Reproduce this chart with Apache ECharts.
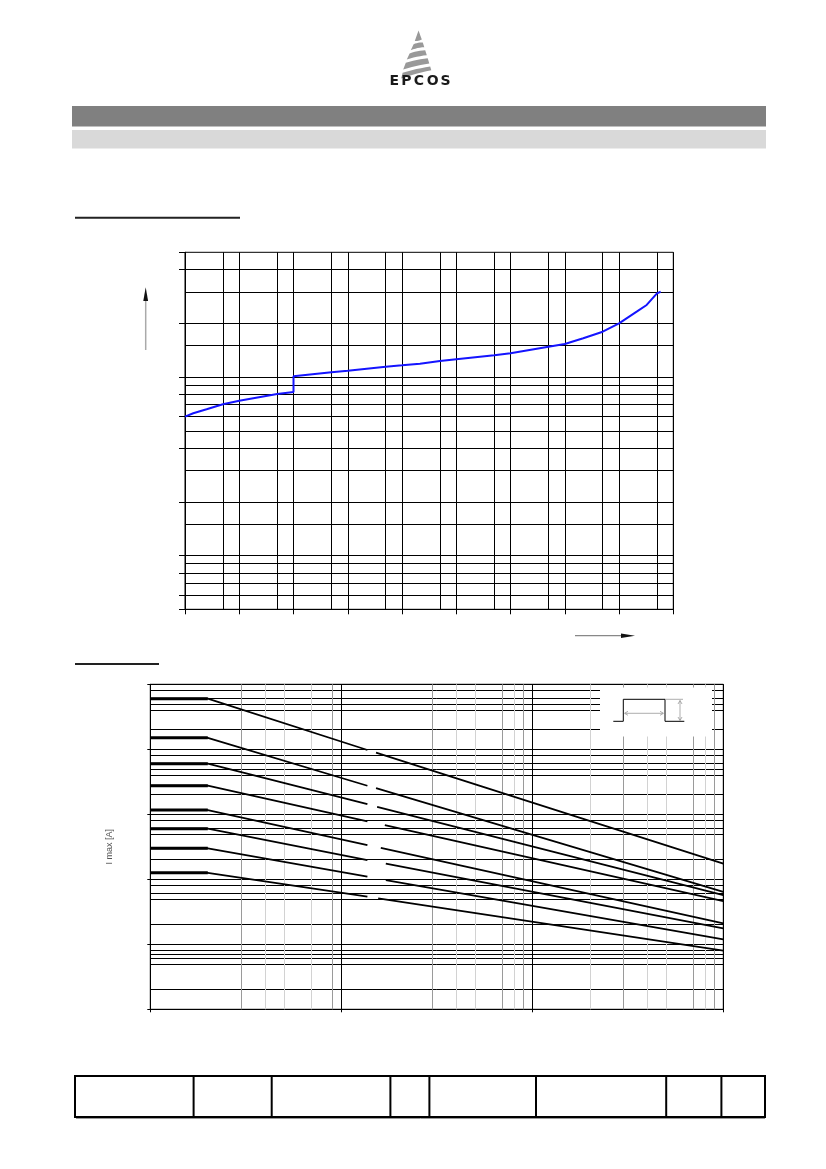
<!DOCTYPE html>
<html>
<head>
<meta charset="utf-8">
<script src="https://cdn.jsdelivr.net/npm/echarts@6/dist/echarts.min.js"></script>
<style>
html,body{margin:0;padding:0;background:#fff;}
#c{width:826px;height:1169px;}
</style>
</head>
<body>
<div id="c"></div>
<script>
// ---------- Top chart: V/I characteristic ----------
const topCurrent = [1e-5,1.42e-5,2.5e-5,5e-5,1e-4,5e-4,1e-3,1e-3,5e-3,1e-2,5e-2,0.1,0.214,0.5,1,5,10,50,100,219,500,1000,2115,3230,5000,5850];
const topVoltage = [120,125.4,132,140.8,147.5,160.7,165,202,212.8,217,228.6,232.8,237.7,246,251.5,264.9,271.8,295.9,306.4,330,359,400,465,507,589,601];
const topYGrid = [12,14,16,18,20,30,40,60,80,100,120,140,160,180,200,300,400,600,800];
const topYTicks = [10,12,16,20,40,80,120,160,200,400,800,1000];
const topXMinor = [5e-5,5e-4,5e-3,0.05,0.5,5,50,500,5000];

// ---------- Bottom chart: derating curves ----------
const curve1 = [[10,6000],[20,6000],[137,975],[137,'-'],[152,889],[10000,17.4]];
const curve2 = [[10,1500],[20,1500],[137,275],[137,'-'],[152,253],[10000,6.4]];
const curve3 = [[10,600],[20,600],[137,143],[137,'-'],[154,130],[10000,5.7]];
const curve4 = [[10,275],[20,275],[137,78],[137,'-'],[169,68],[10000,4.6]];
const curve5 = [[10,116],[20,116],[137,33.6],[137,'-'],[161,30.4],[10000,2.1]];
const curve6 = [[10,60],[20,60],[137,19.7],[137,'-'],[171,17.4],[10000,1.76]];
const curve7 = [[10,30],[20,30],[137,11],[137,'-'],[171,9.75],[10000,1.19]];
const curve8 = [[10,12.6],[20,12.6],[137,5.4],[137,'-'],[156,5.07],[10000,0.8]];
const botYMinor = [0.2,0.5,0.6,0.7,0.8,2,5,6,8,20,50,60,80,200,400,500,600,800,2000,4000,5000,6000,8000];
const botXGray = [30,90,300,700,900,3000,7000,9000];
const botXLight = [40,50,70,400,500,800,2000,4000,5000,8000];

const curves = [curve1,curve2,curve3,curve4,curve5,curve6,curve7,curve8];
const FONT = '"Liberation Sans", Arial, sans-serif';

const chart = echarts.init(document.getElementById('c'), null, {renderer:'canvas', width:826, height:1169});

const blackLine = {color:'#000', width:1};
const mlBase = {silent:true, precision:10, symbol:['none','none'], label:{show:false}, emphasis:{disabled:true}, animation:false};

const topPairs = topCurrent.map((x,i)=>[x, topVoltage[i]]);

const series = [];
series.push({
  type:'line', xAxisIndex:0, yAxisIndex:0, data:[], z:1, silent:true,
  markLine: Object.assign({}, mlBase, {
    lineStyle:{color:'#000', width:1, type:'solid'},
    data: topYGrid.map(v=>({yAxis:v})).concat(topXMinor.map(v=>({xAxis:v})))
  })
});
series.push({type:'line', xAxisIndex:0, yAxisIndex:0, z:5, showSymbol:false, silent:true,
  smooth:false, lineStyle:{color:'#1414ff', width:2}, data: topPairs});

series.push({
  type:'line', xAxisIndex:1, yAxisIndex:1, data:[], z:1, silent:true,
  markLine: Object.assign({}, mlBase, {
    lineStyle:{color:'#000', width:1, type:'solid'},
    data: botYMinor.map(v=>({yAxis:v}))
      .concat(botXGray.map(v=>({xAxis:v, lineStyle:{color:'#9a9a9a', width:1, type:'solid'}})))
      .concat(botXLight.map(v=>({xAxis:v, lineStyle:{color:'#d2d2d2', width:1, type:'solid'}})))
  })
});
curves.forEach(c=>{
  series.push({type:'line', xAxisIndex:1, yAxisIndex:1, z:5, showSymbol:false, silent:true, connectNulls:false,
    lineStyle:{color:'#000', width:1.8}, data:c});
  series.push({type:'line', xAxisIndex:1, yAxisIndex:1, z:6, showSymbol:false, silent:true,
    lineStyle:{color:'#000', width:3}, data:c.slice(0,2)});
});

const G = (o)=>Object.assign({z:100, silent:true}, o);

// logo band helper: curved edges (quadratic, bulging upward)
function arc(L, R, lift){
  const pts = [];
  const cx = (L[0]+R[0])/2, cy = (L[1]+R[1])/2 - lift;
  for (let i=0;i<=6;i++){
    const t=i/6;
    pts.push([(1-t)*(1-t)*L[0]+2*(1-t)*t*cx+t*t*R[0], (1-t)*(1-t)*L[1]+2*(1-t)*t*cy+t*t*R[1]]);
  }
  return pts;
}
function band(L1,R1,L2,R2){
  return arc(L1,R1,1.2).concat(arc(L2,R2,1.2).reverse());
}
const logoFill = '#999';
const graphics = [
  // header bars
  G({type:'rect', shape:{x:72,y:106,width:694,height:20.5}, style:{fill:'#808080'}}),
  G({type:'rect', shape:{x:72,y:130,width:694,height:18.5}, style:{fill:'#d9d9d9'}}),
  // section underlines
  G({type:'rect', shape:{x:75,y:216.7,width:165,height:2}, style:{fill:'#222'}}),
  G({type:'rect', shape:{x:75,y:663,width:84,height:2}, style:{fill:'#222'}}),
  // logo
  G({type:'polygon', shape:{points:[[418.5,30.5],[421.8,39.5]].concat(arc([421.8,39.5],[414.8,41],-1.0).slice(1))}, style:{fill:logoFill}}),
  G({type:'polygon', shape:{points:band([413.6,44.2],[422.8,42.6],[410.8,50.2],[424.3,47.2])}, style:{fill:logoFill}}),
  G({type:'polygon', shape:{points:band([409.6,53.4],[425.2,50.2],[406.8,59.6],[426.8,55.2])}, style:{fill:logoFill}}),
  G({type:'polygon', shape:{points:band([405.8,62.8],[427.7,58.2],[403.2,69.6],[429.3,63.6])}, style:{fill:logoFill}}),
  G({type:'polygon', shape:{points:band([402.6,72.8],[430.2,66.6],[401.2,78.4],[431.3,70.2])}, style:{fill:logoFill}}),
  // top chart axis arrows
  G({type:'line', shape:{x1:145.7,y1:350,x2:145.7,y2:300}, style:{stroke:'#aaa', lineWidth:1.5}}),
  G({type:'polygon', shape:{points:[[145.7,287.3],[143.3,301],[148.1,301]]}, style:{fill:'#111'}}),
  G({type:'line', shape:{x1:575,y1:635.7,x2:622,y2:635.7}, style:{stroke:'#888', lineWidth:1.2}}),
  G({type:'polygon', shape:{points:[[635,635.7],[621,633.5],[621,637.9]]}, style:{fill:'#111'}}),
  // pulse inset
  G({type:'rect', shape:{x:600,y:687.5,width:112,height:49}, style:{fill:'#fff'}}),
  G({type:'polyline', shape:{points:[[613.3,721.3],[623.3,721.3],[623.3,699.3],[665,699.3],[665,721.3],[684.3,721.3]]}, style:{stroke:'#000', lineWidth:1, fill:null}}),
  G({type:'line', shape:{x1:665,y1:699.3,x2:683,y2:699.3}, style:{stroke:'#999', lineWidth:0.8}}),
  G({type:'line', shape:{x1:625,y1:713.3,x2:663,y2:713.3}, style:{stroke:'#999', lineWidth:0.8}}),
  G({type:'polyline', shape:{points:[[628,711.3],[624.5,713.3],[628,715.3]]}, style:{stroke:'#999', lineWidth:0.8, fill:null}}),
  G({type:'polyline', shape:{points:[[660,711.3],[663.5,713.3],[660,715.3]]}, style:{stroke:'#999', lineWidth:0.8, fill:null}}),
  G({type:'line', shape:{x1:680,y1:700.5,x2:680,y2:720.5}, style:{stroke:'#999', lineWidth:0.8}}),
  G({type:'polyline', shape:{points:[[678,704],[680,700.5],[682,704]]}, style:{stroke:'#999', lineWidth:0.8, fill:null}}),
  G({type:'polyline', shape:{points:[[678,717],[680,720.5],[682,717]]}, style:{stroke:'#999', lineWidth:0.8, fill:null}}),
  // footer table
  G({type:'rect', shape:{x:75,y:1076,width:690,height:41}, style:{fill:null, stroke:'#000', lineWidth:2}}),
  G({type:'line', shape:{x1:76,y1:1118.5,x2:765,y2:1118.5}, style:{stroke:'#999', lineWidth:1}})
];
[193.6,271.7,390.4,429.4,536,666.2,721.4].forEach(x=>{
  graphics.push(G({type:'line', shape:{x1:x,y1:1076,x2:x,y2:1117}, style:{stroke:'#000', lineWidth:2}}));
});
[['E',394.3],['P',406.3],['C',419],['O',432.6],['S',445.6]].forEach(([t,x])=>{
  graphics.push(G({type:'text', style:{text:t, x:x, y:81.2, fill:'#1a1a1a', font:'bold 14px "DejaVu Sans", sans-serif', textAlign:'center', textVerticalAlign:'middle', verticalAlign:'middle'}}));
});

const option = {
  animation:false,
  backgroundColor:'#fff',
  grid:[
    {left:185, top:252.3, width:488.3, height:357, show:true, borderColor:'#000', borderWidth:1, backgroundColor:'transparent'},
    {left:150.3, top:684.3, width:573, height:325, show:true, borderColor:'#000', borderWidth:1, backgroundColor:'transparent'}
  ],
  xAxis:[
    {type:'log', logBase:10, gridIndex:0, min:1e-5, max:1e4,
     axisLine:{show:true, lineStyle:blackLine}, axisTick:{show:true, length:5, lineStyle:blackLine},
     axisLabel:{show:false}, splitLine:{show:true, lineStyle:blackLine}, minorTick:{show:false}},
    {type:'log', logBase:10, gridIndex:1, min:10, max:10000,
     axisLine:{show:true, lineStyle:blackLine}, axisTick:{show:true, length:3, lineStyle:blackLine},
     axisLabel:{show:false}, splitLine:{show:true, lineStyle:blackLine}}
  ],
  yAxis:[
    {type:'log', logBase:10, gridIndex:0, min:10, max:1000,
     axisLine:{show:true, lineStyle:blackLine}, axisTick:{show:true, length:6, lineStyle:blackLine, customValues:topYTicks},
     axisLabel:{show:false}, splitLine:{show:false}},
    {type:'log', logBase:10, gridIndex:1, min:0.1, max:10000,
     name:'I max [A]', nameLocation:'middle', nameGap:36, nameRotate:90,
     nameTextStyle:{fontSize:9, color:'#555', fontFamily:FONT},
     axisLine:{show:true, lineStyle:blackLine}, axisTick:{show:true, length:3, lineStyle:blackLine},
     axisLabel:{show:false}, splitLine:{show:true, lineStyle:blackLine}}
  ],
  series: series,
  graphic:{elements:graphics}
};
chart.setOption(option);
</script>
</body>
</html>
